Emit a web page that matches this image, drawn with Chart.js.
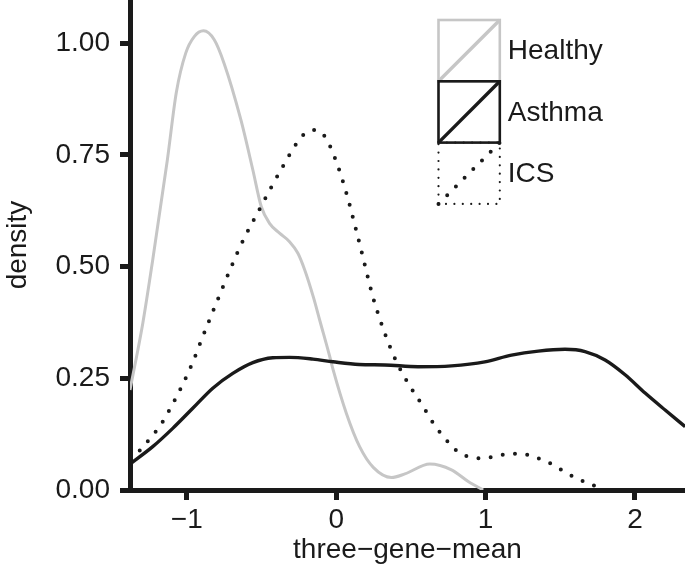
<!DOCTYPE html>
<html>
<head>
<meta charset="utf-8">
<script src="https://cdn.jsdelivr.net/npm/chart.js@4.4.1/dist/chart.umd.min.js"></script>
<style>
  html, body { margin: 0; padding: 0; background: #fff; }
  #wrap { width: 685px; height: 567px; }
</style>
</head>
<body>
<div id="wrap"><canvas id="chart" width="685" height="567"></canvas></div>
<script>
const ink = '#1a1a1a';
const fontType = '"Liberation Sans", Arial, Helvetica, sans-serif';

/* group names, in the order of the legend */
const groupNames = ['Healthy', 'Asthma', 'ICS'];

/* density curves */
const healthyX = [-1.38, -1.294, -1.228, -1.13, -1.07, -1.007, -0.95, -0.888, -0.816, -0.75, -0.638, -0.558, -0.501, -0.446, -0.379, -0.312, -0.256, -0.211, -0.151, -0.11, -0.044, -0.021, 0.068, 0.157, 0.25, 0.37, 0.46, 0.627, 0.772, 0.884, 0.984];
const healthyY = [0.224, 0.374, 0.515, 0.739, 0.89, 0.978, 1.015, 1.028, 1.008, 0.955, 0.829, 0.717, 0.634, 0.597, 0.575, 0.556, 0.530, 0.493, 0.43, 0.38, 0.30, 0.27, 0.172, 0.097, 0.05, 0.028, 0.036, 0.058, 0.045, 0.019, 0.0];

const asthmaX = [-1.38, -1.228, -1.094, -0.96, -0.826, -0.692, -0.558, -0.424, -0.312, -0.155, -0.021, 0.153, 0.325, 0.548, 0.772, 0.995, 1.174, 1.353, 1.532, 1.666, 1.80, 1.934, 2.068, 2.202, 2.336];
const asthmaY = [0.058, 0.097, 0.138, 0.183, 0.228, 0.261, 0.285, 0.296, 0.297, 0.293, 0.287, 0.281, 0.280, 0.276, 0.278, 0.287, 0.302, 0.311, 0.315, 0.310, 0.291, 0.258, 0.217, 0.179, 0.142];

const icsX = [-1.38, -1.328, -1.272, -1.172, -1.094, -1.022, -0.955, -0.897, -0.837, -0.776, -0.714, -0.651, -0.58, -0.504, -0.426, -0.347, -0.265, -0.213, -0.142, -0.075, -0.008, 0.044, 0.088, 0.129, 0.169, 0.207, 0.247, 0.296, 0.35, 0.414, 0.493, 0.582, 0.665, 0.716, 0.772, 0.832, 0.908, 0.989, 1.067, 1.145, 1.225, 1.306, 1.382, 1.456, 1.527, 1.599, 1.672, 1.77];
const icsY = [0.072, 0.084, 0.105, 0.147, 0.193, 0.240, 0.290, 0.340, 0.390, 0.440, 0.490, 0.539, 0.587, 0.634, 0.683, 0.730, 0.776, 0.797, 0.806, 0.791, 0.743, 0.692, 0.641, 0.588, 0.535, 0.483, 0.431, 0.379, 0.329, 0.28, 0.233, 0.187, 0.142, 0.121, 0.099, 0.082, 0.073, 0.071, 0.076, 0.080, 0.081, 0.077, 0.067, 0.056, 0.041, 0.028, 0.017, 0.004];

const xTicks = [-1, 0, 1, 2];
const yTicks = [0, 0.25, 0.5, 0.75, 1];

function pts(xs, ys) {
  return xs.map((x, i) => ({ x: x, y: ys[i] }));
}

/* ggplot style legend: box + diagonal per group */
const boxLegend = {
  id: 'boxLegend',
  afterDraw(chart) {
    const ctx = chart.ctx;
    const size = 61.3;
    const x0 = 438.5;
    const top = 20;
    ctx.save();
    chart.data.datasets.forEach((ds, i) => {
      const y0 = top + i * size;
      const dotted = ds.borderDash && ds.borderDash.length > 0;
      ctx.strokeStyle = ds.borderColor;
      ctx.lineCap = dotted ? 'round' : 'butt';
      // box
      ctx.lineWidth = dotted ? 2.2 : 2.6;
      ctx.setLineDash(dotted ? [0, 8.4] : []);
      ctx.strokeRect(x0, y0, size, size);
      // diagonal
      ctx.lineWidth = dotted ? 4 : 3.4;
      ctx.setLineDash(dotted ? [0, 12.3] : []);
      ctx.beginPath();
      ctx.moveTo(x0, y0 + size);
      ctx.lineTo(x0 + size, y0);
      ctx.stroke();
    });
    ctx.setLineDash([]);
    ctx.fillStyle = ink;
    ctx.font = '28px ' + fontType;
    ctx.textBaseline = 'middle';
    ctx.textAlign = 'left';
    chart.data.datasets.forEach((ds, i) => {
      ctx.fillText(ds.label, x0 + size + 8, top + i * size + size / 2 + 1);
    });
    ctx.restore();
  }
};

const minus = (v) => (v < 0 ? '\u2212' + Math.abs(v) : String(v));

window.addEventListener('DOMContentLoaded', () => {
  Chart.defaults.font.family = fontType;
  Chart.defaults.color = ink;

  new Chart(document.getElementById('chart'), {
    type: 'line',
    data: {
      datasets: [
        {
          label: groupNames[0],
          data: pts(healthyX, healthyY),
          borderColor: '#c6c6c6',
          borderWidth: 3,
          borderDash: [],
          order: 3
        },
        {
          label: groupNames[1],
          data: pts(asthmaX, asthmaY),
          borderColor: ink,
          borderWidth: 3.4,
          borderDash: [],
          order: 2
        },
        {
          label: groupNames[2],
          data: pts(icsX, icsY),
          borderColor: ink,
          borderWidth: 4,
          borderDash: [0, 12.3],
          borderCapStyle: 'round',
          order: 1
        }
      ]
    },
    options: {
      responsive: false,
      animation: false,
      devicePixelRatio: 1,
      layout: { padding: 0 },
      elements: {
        point: { radius: 0, hoverRadius: 0 },
        line: { cubicInterpolationMode: 'monotone', fill: false }
      },
      plugins: {
        legend: { display: false },
        tooltip: { enabled: false },
        title: { display: false }
      },
      scales: {
        x: {
          type: 'linear',
          min: -1.38,
          max: 2.335,
          z: 1,
          afterBuildTicks: (s) => { s.ticks = xTicks.map((v) => ({ value: v })); },
          afterFit: (s) => { s.height = 77; s.paddingLeft = 0; s.paddingRight = 0; },
          ticks: {
            callback: (v) => minus(v),
            font: { size: 28 },
            color: ink,
            padding: 3,
            maxRotation: 0
          },
          grid: {
            drawOnChartArea: false,
            drawTicks: true,
            tickLength: 10,
            tickWidth: 5,
            tickColor: ink
          },
          border: { display: true, width: 5, color: ink },
          title: {
            display: true,
            text: 'three\u2212gene\u2212mean',
            font: { size: 28 },
            color: ink,
            padding: { top: 0, bottom: 0 }
          }
        },
        y: {
          type: 'linear',
          min: 0,
          max: 1.097,
          z: 1,
          afterBuildTicks: (s) => { s.ticks = yTicks.map((v) => ({ value: v })); },
          afterFit: (s) => { s.width = 130; s.paddingTop = 0; s.paddingBottom = 0; },
          ticks: {
            callback: (v) => v.toFixed(2),
            font: { size: 28 },
            color: ink,
            padding: 10
          },
          grid: {
            drawOnChartArea: false,
            drawTicks: true,
            tickLength: 10,
            tickWidth: 5,
            tickColor: ink
          },
          border: { display: true, width: 5, color: ink },
          title: {
            display: true,
            text: 'density',
            font: { size: 28 },
            color: ink,
            padding: { top: 1, bottom: 0 }
          }
        }
      }
    },
    plugins: [boxLegend]
  });
});
</script>
</body>
</html>
